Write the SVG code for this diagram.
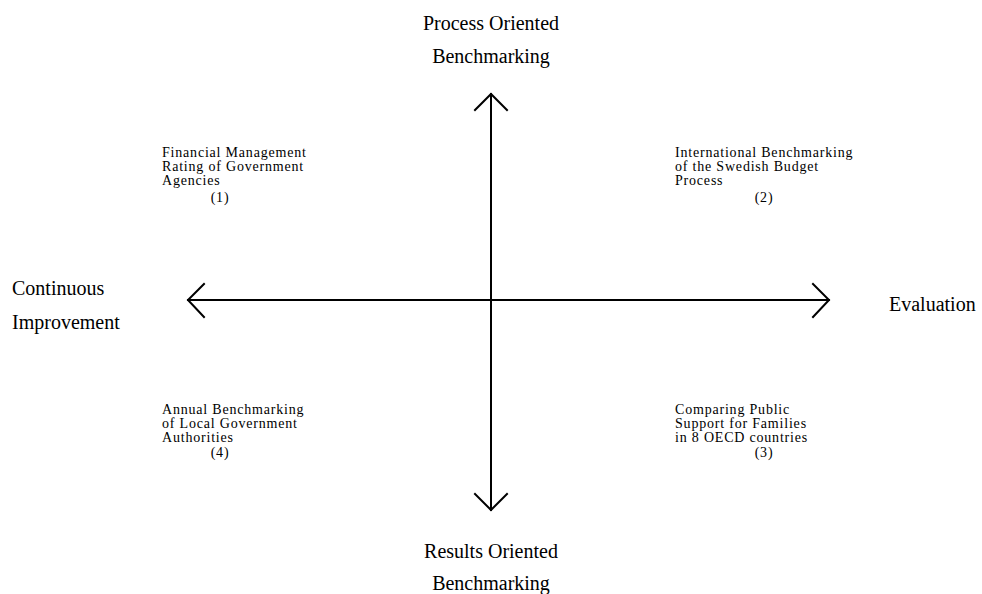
<svg xmlns="http://www.w3.org/2000/svg" width="982" height="594" viewBox="0 0 982 594">
<style>
.ax{stroke:#000;stroke-width:2;fill:none;stroke-linecap:square}
.big{font-family:"Liberation Serif","Times New Roman",serif;font-size:20px;fill:#000}
.sm{font-family:"Liberation Serif","Times New Roman",serif;font-size:14px;letter-spacing:0.8px;fill:#000}
</style>
<rect width="982" height="594" fill="#fff"/>
<g id="connectors">
<path class="ax" d="M491,94 V510"/>
<path class="ax" d="M475,110 L491,94 L507,110"/>
<path class="ax" d="M475,494 L491,510 L507,494"/>
<path class="ax" d="M188,300 H829"/>
<path class="ax" d="M204,284 L188,300 L204,317"/>
<path class="ax" d="M813,284 L829,300 L813,317"/>
</g>
<g id="top-label"><text class="big" text-anchor="middle" x="491" y="30">Process Oriented</text><text class="big" text-anchor="middle" x="491" y="63">Benchmarking</text></g>
<g id="bottom-label"><text class="big" text-anchor="middle" x="491" y="558">Results Oriented</text><text class="big" text-anchor="middle" x="491" y="590">Benchmarking</text></g>
<g id="left-label"><text class="big" x="12" y="295">Continuous</text><text class="big" x="12" y="329">Improvement</text></g>
<g id="right-label"><text class="big" x="889" y="311">Evaluation</text></g>
<g id="q1"><text class="sm" x="162" y="157">Financial Management</text><text class="sm" x="162" y="171">Rating of Government</text><text class="sm" x="162" y="185">Agencies</text><text class="sm" x="220" y="202" text-anchor="middle">(1)</text></g>
<g id="q2"><text class="sm" x="675" y="157">International Benchmarking</text><text class="sm" x="675" y="171">of the Swedish Budget</text><text class="sm" x="675" y="185">Process</text><text class="sm" x="764" y="202" text-anchor="middle">(2)</text></g>
<g id="q4"><text class="sm" x="162" y="414">Annual Benchmarking</text><text class="sm" x="162" y="428">of Local Government</text><text class="sm" x="162" y="442">Authorities</text><text class="sm" x="220" y="457" text-anchor="middle">(4)</text></g>
<g id="q3"><text class="sm" x="675" y="414">Comparing Public</text><text class="sm" x="675" y="428">Support for Families</text><text class="sm" x="675" y="442">in 8 OECD countries</text><text class="sm" x="764" y="457" text-anchor="middle">(3)</text></g>
</svg>
